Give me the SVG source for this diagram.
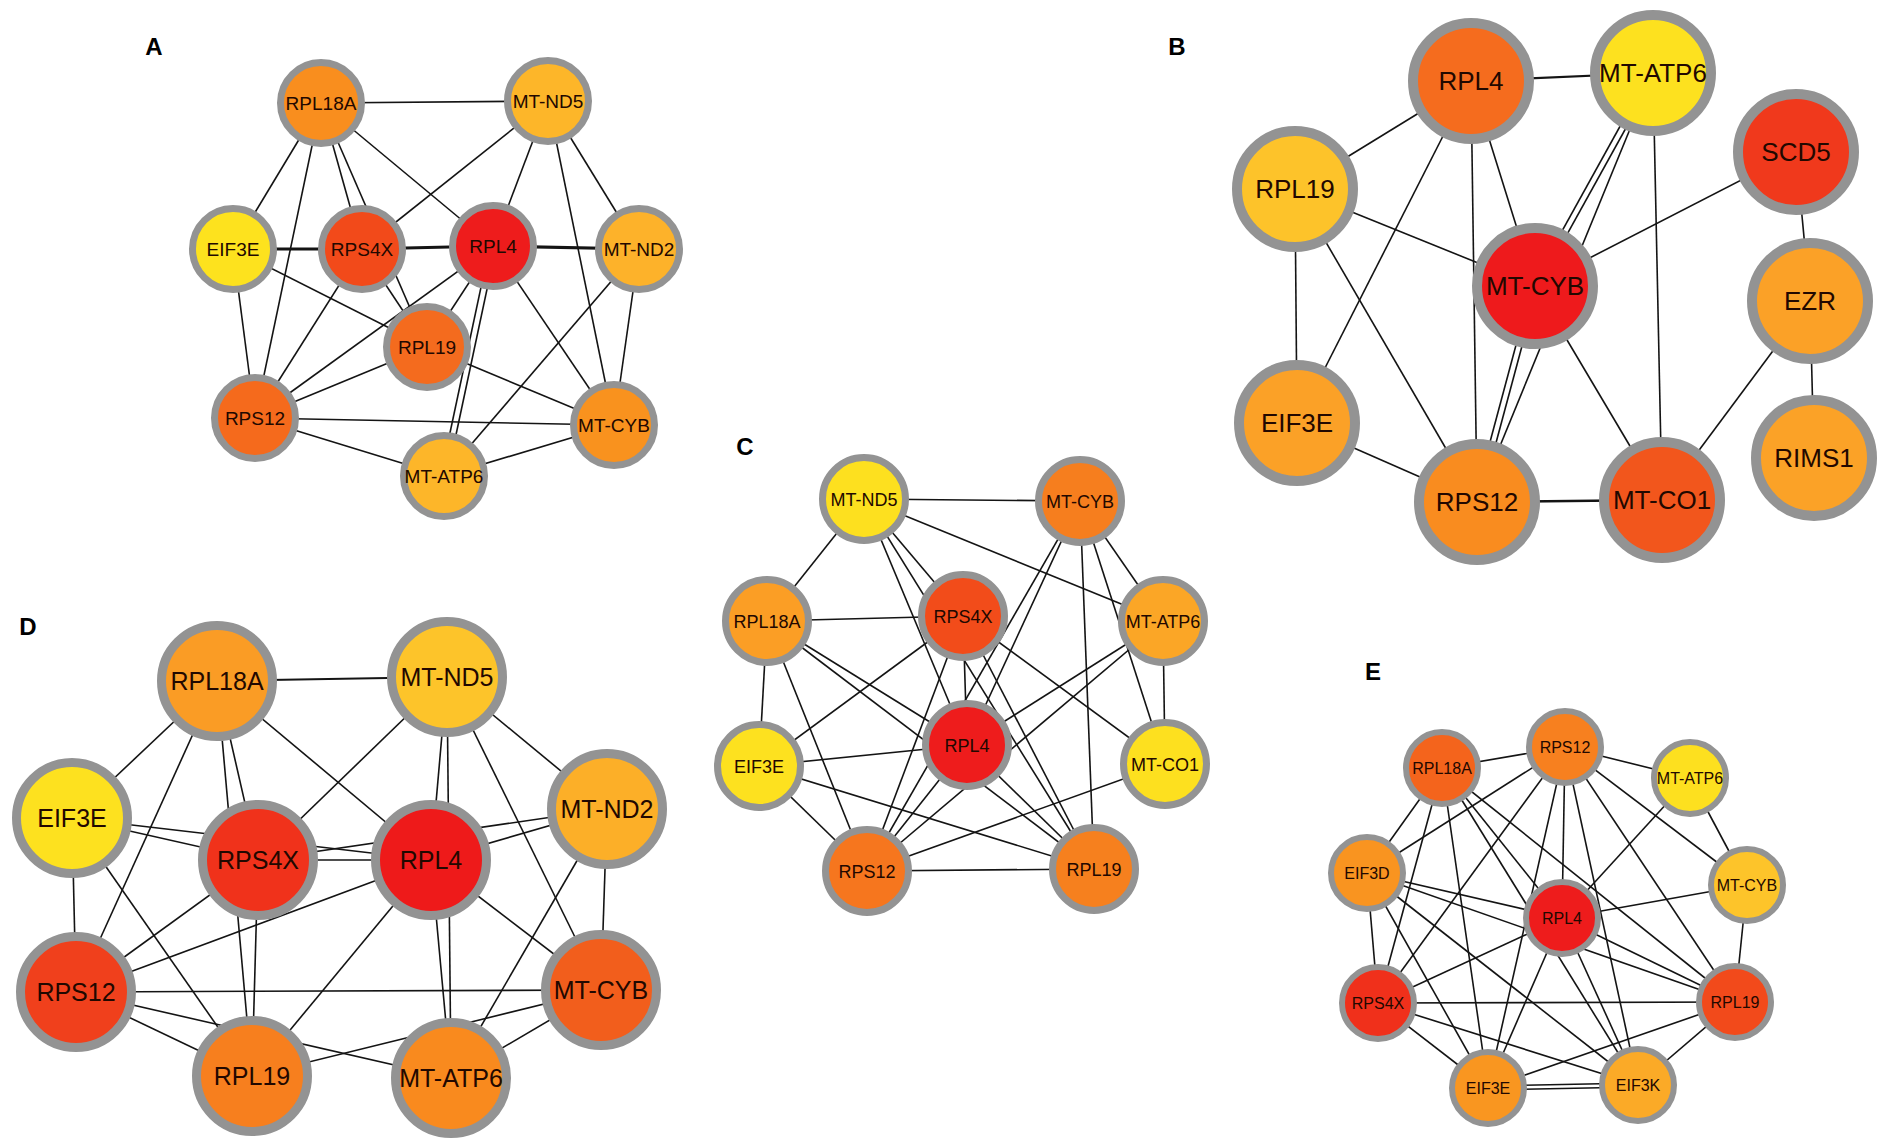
<svg xmlns="http://www.w3.org/2000/svg" width="1890" height="1148" viewBox="0 0 1890 1148">
<style>
.bg{fill:#ffffff}
.e{stroke:#141414;stroke-width:1.6;fill:none}
.et{stroke:#141414;stroke-width:3.2;fill:none}
.lbl{font-family:"Liberation Sans",Arial,sans-serif;font-weight:bold;font-size:24px;fill:#000;text-anchor:middle}
.t{font-family:"Liberation Sans",Arial,sans-serif;fill:#220800;text-anchor:middle}
.ca{stroke:#939393;stroke-width:7}
.cb{stroke:#939393;stroke-width:10}
.cc{stroke:#939393;stroke-width:7}
.cd{stroke:#939393;stroke-width:9}
.ce{stroke:#939393;stroke-width:6}
.ta{font-size:19px}
.tb{font-size:26px}
.tc{font-size:18px}
.td{font-size:25px}
.te{font-size:16px}
</style>
<rect class="bg" x="0" y="0" width="1890" height="1148"/>
<g id="panel-labels">
<text class="lbl" x="154" y="55">A</text>
<text class="lbl" x="1177" y="55">B</text>
<text class="lbl" x="745" y="455">C</text>
<text class="lbl" x="28" y="635">D</text>
<text class="lbl" x="1373" y="680">E</text>
</g>
<g id="connectors">
<!-- Panel A -->
<line class="e" x1="321" y1="103" x2="548" y2="101"/>
<line class="e" x1="321" y1="103" x2="233" y2="249"/>
<line class="e" x1="321" y1="103" x2="255" y2="418"/>
<line class="e" x1="321" y1="103" x2="362" y2="249"/>
<line class="e" x1="321" y1="103" x2="427" y2="347"/>
<line class="e" x1="321" y1="103" x2="493" y2="246"/>
<line class="e" x1="548" y1="101" x2="362" y2="249"/>
<line class="e" x1="548" y1="101" x2="493" y2="246"/>
<line class="e" x1="548" y1="101" x2="614" y2="425"/>
<line class="e" x1="548" y1="101" x2="639" y2="249"/>
<line class="et" x1="233" y1="249" x2="362" y2="249"/>
<line class="et" x1="362" y1="249" x2="493" y2="246"/>
<line class="et" x1="493" y1="246" x2="639" y2="249"/>
<line class="e" x1="233" y1="249" x2="255" y2="418"/>
<line class="e" x1="233" y1="249" x2="427" y2="347"/>
<line class="e" x1="362" y1="249" x2="255" y2="418"/>
<line class="e" x1="362" y1="249" x2="427" y2="347"/>
<line class="e" x1="493" y1="246" x2="255" y2="418"/>
<line class="e" x1="493" y1="246" x2="427" y2="347"/>
<line class="e" x1="496" y1="247" x2="447" y2="477"/>
<line class="e" x1="490" y1="245" x2="441" y2="475"/>
<line class="e" x1="493" y1="246" x2="614" y2="425"/>
<line class="e" x1="639" y1="249" x2="444" y2="476"/>
<line class="e" x1="639" y1="249" x2="614" y2="425"/>
<line class="e" x1="427" y1="347" x2="614" y2="425"/>
<line class="e" x1="255" y1="418" x2="614" y2="425"/>
<line class="e" x1="255" y1="418" x2="444" y2="476"/>
<line class="e" x1="444" y1="476" x2="614" y2="425"/>
<line class="e" x1="255" y1="418" x2="427" y2="347"/>
<!-- Panel B -->
<line class="e" x1="1471" y1="81" x2="1653" y2="73" style="stroke-width:2.2"/>
<line class="e" x1="1471" y1="81" x2="1295" y2="189"/>
<line class="e" x1="1471" y1="81" x2="1297" y2="423"/>
<line class="e" x1="1471" y1="81" x2="1477" y2="502"/>
<line class="e" x1="1471" y1="81" x2="1535" y2="286"/>
<line class="e" x1="1655.6" y1="74.5" x2="1537.6" y2="287.5"/>
<line class="e" x1="1650.4" y1="71.5" x2="1532.4" y2="284.5"/>
<line class="e" x1="1653" y1="73" x2="1477" y2="502"/>
<line class="e" x1="1537.9" y1="286.8" x2="1479.9" y2="502.8"/>
<line class="e" x1="1532.1" y1="285.2" x2="1474.1" y2="501.2"/>
<line class="e" x1="1653" y1="73" x2="1662" y2="500"/>
<line class="e" x1="1796" y1="152" x2="1535" y2="286"/>
<line class="e" x1="1796" y1="152" x2="1810" y2="301"/>
<line class="e" x1="1810" y1="301" x2="1814" y2="458"/>
<line class="e" x1="1810" y1="301" x2="1662" y2="500"/>
<line class="e" x1="1295" y1="189" x2="1535" y2="286"/>
<line class="e" x1="1295" y1="189" x2="1297" y2="423"/>
<line class="e" x1="1295" y1="189" x2="1477" y2="502"/>
<line class="e" x1="1535" y1="286" x2="1662" y2="500"/>
<line class="e" x1="1297" y1="423" x2="1477" y2="502"/>
<line class="e" x1="1477" y1="502" x2="1662" y2="500" style="stroke-width:2.6"/>
<!-- Panel C -->
<line class="e" x1="864" y1="499" x2="1080" y2="501"/>
<line class="e" x1="864" y1="499" x2="767" y2="621"/>
<line class="e" x1="864" y1="499" x2="963" y2="616"/>
<line class="e" x1="864" y1="499" x2="967" y2="745"/>
<line class="e" x1="864" y1="499" x2="1094" y2="869"/>
<line class="e" x1="864" y1="499" x2="1163" y2="621"/>
<line class="e" x1="1080" y1="501" x2="967" y2="745"/>
<line class="e" x1="1080" y1="501" x2="867" y2="871"/>
<line class="e" x1="1080" y1="501" x2="1094" y2="869"/>
<line class="e" x1="1080" y1="501" x2="1163" y2="621"/>
<line class="e" x1="1080" y1="501" x2="1165" y2="764"/>
<line class="e" x1="1163" y1="621" x2="1165" y2="764"/>
<line class="e" x1="1163" y1="621" x2="967" y2="745"/>
<line class="e" x1="1163" y1="621" x2="867" y2="871"/>
<line class="e" x1="963" y1="616" x2="767" y2="621"/>
<line class="e" x1="963" y1="616" x2="967" y2="745"/>
<line class="e" x1="963" y1="616" x2="759" y2="766"/>
<line class="e" x1="963" y1="616" x2="867" y2="871"/>
<line class="e" x1="963" y1="616" x2="1165" y2="764"/>
<line class="e" x1="963" y1="616" x2="1094" y2="869"/>
<line class="e" x1="767" y1="621" x2="759" y2="766"/>
<line class="e" x1="767" y1="621" x2="967" y2="745"/>
<line class="e" x1="767" y1="621" x2="1094" y2="869"/>
<line class="e" x1="767" y1="621" x2="867" y2="871"/>
<line class="e" x1="759" y1="766" x2="967" y2="745"/>
<line class="e" x1="759" y1="766" x2="867" y2="871"/>
<line class="e" x1="759" y1="766" x2="1094" y2="869"/>
<line class="e" x1="967" y1="745" x2="867" y2="871"/>
<line class="e" x1="967" y1="745" x2="1094" y2="869"/>
<line class="e" x1="867" y1="871" x2="1094" y2="869"/>
<line class="e" x1="867" y1="871" x2="1165" y2="764"/>
<!-- Panel D -->
<line class="e" x1="217" y1="681" x2="447" y2="677" style="stroke-width:2"/>
<line class="e" x1="217" y1="681" x2="72" y2="818"/>
<line class="e" x1="217" y1="681" x2="76" y2="992"/>
<line class="e" x1="217" y1="681" x2="258" y2="860"/>
<line class="e" x1="217" y1="681" x2="252" y2="1076"/>
<line class="e" x1="217" y1="681" x2="431" y2="860"/>
<line class="e" x1="447" y1="677" x2="258" y2="860"/>
<line class="e" x1="447" y1="677" x2="431" y2="860"/>
<line class="e" x1="447" y1="677" x2="451" y2="1078"/>
<line class="e" x1="447" y1="677" x2="601" y2="990"/>
<line class="e" x1="447" y1="677" x2="607" y2="809"/>
<line class="e" x1="72" y1="818" x2="258" y2="860"/>
<line class="e" x1="72" y1="818" x2="431" y2="860"/>
<line class="e" x1="258" y1="860" x2="431" y2="860"/>
<line class="e" x1="258" y1="860" x2="607" y2="809"/>
<line class="e" x1="431" y1="860" x2="607" y2="809"/>
<line class="e" x1="72" y1="818" x2="76" y2="992"/>
<line class="e" x1="72" y1="818" x2="252" y2="1076"/>
<line class="e" x1="258" y1="860" x2="76" y2="992"/>
<line class="e" x1="258" y1="860" x2="252" y2="1076"/>
<line class="e" x1="431" y1="860" x2="76" y2="992"/>
<line class="e" x1="431" y1="860" x2="252" y2="1076"/>
<line class="e" x1="431" y1="860" x2="451" y2="1078"/>
<line class="e" x1="431" y1="860" x2="601" y2="990"/>
<line class="e" x1="607" y1="809" x2="451" y2="1078"/>
<line class="e" x1="607" y1="809" x2="601" y2="990"/>
<line class="e" x1="76" y1="992" x2="601" y2="990"/>
<line class="e" x1="76" y1="992" x2="252" y2="1076"/>
<line class="e" x1="76" y1="992" x2="451" y2="1078"/>
<line class="e" x1="252" y1="1076" x2="601" y2="990"/>
<line class="e" x1="451" y1="1078" x2="601" y2="990"/>
<!-- Panel E -->
<line class="e" x1="1565" y1="747" x2="1442" y2="768"/>
<line class="e" x1="1565" y1="747" x2="1690" y2="778"/>
<line class="e" x1="1565" y1="747" x2="1367" y2="873"/>
<line class="e" x1="1565" y1="747" x2="1378" y2="1003"/>
<line class="e" x1="1565" y1="747" x2="1488" y2="1088"/>
<line class="e" x1="1565" y1="747" x2="1562" y2="918"/>
<line class="e" x1="1565" y1="747" x2="1638" y2="1085"/>
<line class="e" x1="1565" y1="747" x2="1735" y2="1002"/>
<line class="e" x1="1565" y1="747" x2="1747" y2="885"/>
<line class="e" x1="1442" y1="768" x2="1367" y2="873"/>
<line class="e" x1="1442" y1="768" x2="1378" y2="1003"/>
<line class="e" x1="1442" y1="768" x2="1488" y2="1088"/>
<line class="e" x1="1442" y1="768" x2="1562" y2="918"/>
<line class="e" x1="1442" y1="768" x2="1638" y2="1085"/>
<line class="e" x1="1442" y1="768" x2="1735" y2="1002"/>
<line class="e" x1="1690" y1="778" x2="1747" y2="885"/>
<line class="e" x1="1690" y1="778" x2="1562" y2="918"/>
<line class="e" x1="1747" y1="885" x2="1562" y2="918"/>
<line class="e" x1="1747" y1="885" x2="1735" y2="1002"/>
<line class="e" x1="1367" y1="873" x2="1562" y2="918"/>
<line class="e" x1="1367" y1="873" x2="1735" y2="1002"/>
<line class="e" x1="1367" y1="873" x2="1378" y2="1003"/>
<line class="e" x1="1367" y1="873" x2="1488" y2="1088"/>
<line class="e" x1="1367" y1="873" x2="1638" y2="1085"/>
<line class="e" x1="1378" y1="1003" x2="1562" y2="918"/>
<line class="e" x1="1378" y1="1003" x2="1735" y2="1002"/>
<line class="e" x1="1378" y1="1003" x2="1488" y2="1088"/>
<line class="e" x1="1378" y1="1003" x2="1638" y2="1085"/>
<line class="e" x1="1562" y1="918" x2="1488" y2="1088"/>
<line class="e" x1="1562" y1="918" x2="1638" y2="1085"/>
<line class="e" x1="1562" y1="918" x2="1735" y2="1002"/>
<line class="e" x1="1735" y1="1002" x2="1488" y2="1088"/>
<line class="e" x1="1735" y1="1002" x2="1638" y2="1085"/>
<line class="e" x1="1488" y1="1086" x2="1638" y2="1083"/>
<line class="e" x1="1488" y1="1090" x2="1638" y2="1087"/>
</g>
<g id="panel-A">
<g id="A-RPL18A"><circle class="ca" cx="321" cy="103" r="40.5" fill="#F98E1E"/><text class="t ta" x="321" y="109.5">RPL18A</text></g>
<g id="A-MT-ND5"><circle class="ca" cx="548" cy="101" r="40.5" fill="#FDB629"/><text class="t ta" x="548" y="107.5">MT-ND5</text></g>
<g id="A-EIF3E"><circle class="ca" cx="233" cy="249" r="40.5" fill="#FDE21E"/><text class="t ta" x="233" y="255.5">EIF3E</text></g>
<g id="A-RPS4X"><circle class="ca" cx="362" cy="249" r="40.5" fill="#F24A1A"/><text class="t ta" x="362" y="255.5">RPS4X</text></g>
<g id="A-RPL4"><circle class="ca" cx="493" cy="246" r="40.5" fill="#EE1C1C"/><text class="t ta" x="493" y="252.5">RPL4</text></g>
<g id="A-MT-ND2"><circle class="ca" cx="639" cy="249" r="40.5" fill="#FDB22A"/><text class="t ta" x="639" y="255.5">MT-ND2</text></g>
<g id="A-RPL19"><circle class="ca" cx="427" cy="347" r="40.5" fill="#F46B1E"/><text class="t ta" x="427" y="353.5">RPL19</text></g>
<g id="A-RPS12"><circle class="ca" cx="255" cy="418" r="40.5" fill="#F56A1C"/><text class="t ta" x="255" y="424.5">RPS12</text></g>
<g id="A-MT-CYB"><circle class="ca" cx="614" cy="425" r="40.5" fill="#F9921E"/><text class="t ta" x="614" y="431.5">MT-CYB</text></g>
<g id="A-MT-ATP6"><circle class="ca" cx="444" cy="476" r="40.5" fill="#FDB629"/><text class="t ta" x="444" y="482.5">MT-ATP6</text></g>
</g>
<g id="panel-B">
<g id="B-RPL4"><circle class="cb" cx="1471" cy="81" r="58" fill="#F56C1E"/><text class="t tb" x="1471" y="90">RPL4</text></g>
<g id="B-MT-ATP6"><circle class="cb" cx="1653" cy="73" r="58" fill="#FDE11F"/><text class="t tb" x="1653" y="82">MT-ATP6</text></g>
<g id="B-SCD5"><circle class="cb" cx="1796" cy="152" r="58" fill="#F0391C"/><text class="t tb" x="1796" y="161">SCD5</text></g>
<g id="B-RPL19"><circle class="cb" cx="1295" cy="189" r="58" fill="#FDC32A"/><text class="t tb" x="1295" y="198">RPL19</text></g>
<g id="B-MT-CYB"><circle class="cb" cx="1535" cy="286" r="58" fill="#EE1A1C"/><text class="t tb" x="1535" y="295">MT-CYB</text></g>
<g id="B-EZR"><circle class="cb" cx="1810" cy="301" r="58" fill="#FBA127"/><text class="t tb" x="1810" y="310">EZR</text></g>
<g id="B-EIF3E"><circle class="cb" cx="1297" cy="423" r="58" fill="#FBA127"/><text class="t tb" x="1297" y="432">EIF3E</text></g>
<g id="B-RIMS1"><circle class="cb" cx="1814" cy="458" r="58" fill="#FBA227"/><text class="t tb" x="1814" y="467">RIMS1</text></g>
<g id="B-RPS12"><circle class="cb" cx="1477" cy="502" r="58" fill="#F98C1F"/><text class="t tb" x="1477" y="511">RPS12</text></g>
<g id="B-MT-CO1"><circle class="cb" cx="1662" cy="500" r="58" fill="#F2561C"/><text class="t tb" x="1662" y="509">MT-CO1</text></g>
</g>
<g id="panel-C">
<g id="C-MT-ND5"><circle class="cc" cx="864" cy="499" r="41.5" fill="#FDE01F"/><text class="t tc" x="864" y="505.5">MT-ND5</text></g>
<g id="C-MT-CYB"><circle class="cc" cx="1080" cy="501" r="41.5" fill="#F67E1E"/><text class="t tc" x="1080" y="507.5">MT-CYB</text></g>
<g id="C-RPL18A"><circle class="cc" cx="767" cy="621" r="41.5" fill="#FB9E25"/><text class="t tc" x="767" y="627.5">RPL18A</text></g>
<g id="C-RPS4X"><circle class="cc" cx="963" cy="616" r="41.5" fill="#F24C1A"/><text class="t tc" x="963" y="622.5">RPS4X</text></g>
<g id="C-MT-ATP6"><circle class="cc" cx="1163" cy="621" r="41.5" fill="#FBA626"/><text class="t tc" x="1163" y="627.5">MT-ATP6</text></g>
<g id="C-EIF3E"><circle class="cc" cx="759" cy="766" r="41.5" fill="#FDE11F"/><text class="t tc" x="759" y="772.5">EIF3E</text></g>
<g id="C-RPL4"><circle class="cc" cx="967" cy="745" r="41.5" fill="#EE1C1C"/><text class="t tc" x="967" y="751.5">RPL4</text></g>
<g id="C-MT-CO1"><circle class="cc" cx="1165" cy="764" r="41.5" fill="#FDE01F"/><text class="t tc" x="1165" y="770.5">MT-CO1</text></g>
<g id="C-RPS12"><circle class="cc" cx="867" cy="871" r="41.5" fill="#F6761E"/><text class="t tc" x="867" y="877.5">RPS12</text></g>
<g id="C-RPL19"><circle class="cc" cx="1094" cy="869" r="41.5" fill="#F6801E"/><text class="t tc" x="1094" y="875.5">RPL19</text></g>
</g>
<g id="panel-D">
<g id="D-RPL18A"><circle class="cd" cx="217" cy="681" r="55.5" fill="#FA9C25"/><text class="t td" x="217" y="690">RPL18A</text></g>
<g id="D-MT-ND5"><circle class="cd" cx="447" cy="677" r="55.5" fill="#FDC42A"/><text class="t td" x="447" y="686">MT-ND5</text></g>
<g id="D-EIF3E"><circle class="cd" cx="72" cy="818" r="55.5" fill="#FDE11F"/><text class="t td" x="72" y="827">EIF3E</text></g>
<g id="D-RPS4X"><circle class="cd" cx="258" cy="860" r="55.5" fill="#F0321B"/><text class="t td" x="258" y="869">RPS4X</text></g>
<g id="D-RPL4"><circle class="cd" cx="431" cy="860" r="55.5" fill="#EE1A1A"/><text class="t td" x="431" y="869">RPL4</text></g>
<g id="D-MT-ND2"><circle class="cd" cx="607" cy="809" r="55.5" fill="#FCAF28"/><text class="t td" x="607" y="818">MT-ND2</text></g>
<g id="D-RPS12"><circle class="cd" cx="76" cy="992" r="55.5" fill="#F0401C"/><text class="t td" x="76" y="1001">RPS12</text></g>
<g id="D-MT-CYB"><circle class="cd" cx="601" cy="990" r="55.5" fill="#F25E1C"/><text class="t td" x="601" y="999">MT-CYB</text></g>
<g id="D-RPL19"><circle class="cd" cx="252" cy="1076" r="55.5" fill="#F77F1E"/><text class="t td" x="252" y="1085">RPL19</text></g>
<g id="D-MT-ATP6"><circle class="cd" cx="451" cy="1078" r="55.5" fill="#F98A1E"/><text class="t td" x="451" y="1087">MT-ATP6</text></g>
</g>
<g id="panel-E">
<g id="E-RPS12"><circle class="ce" cx="1565" cy="747" r="36" fill="#F7801F"/><text class="t te" x="1565" y="752.5">RPS12</text></g>
<g id="E-RPL18A"><circle class="ce" cx="1442" cy="768" r="36" fill="#F4641C"/><text class="t te" x="1442" y="773.5">RPL18A</text></g>
<g id="E-MT-ATP6"><circle class="ce" cx="1690" cy="778" r="36" fill="#FDE01F"/><text class="t te" x="1690" y="783.5">MT-ATP6</text></g>
<g id="E-EIF3D"><circle class="ce" cx="1367" cy="873" r="36" fill="#F99420"/><text class="t te" x="1367" y="878.5">EIF3D</text></g>
<g id="E-MT-CYB"><circle class="ce" cx="1747" cy="885" r="36" fill="#FDC42A"/><text class="t te" x="1747" y="890.5">MT-CYB</text></g>
<g id="E-RPL4"><circle class="ce" cx="1562" cy="918" r="36" fill="#EE1C1C"/><text class="t te" x="1562" y="923.5">RPL4</text></g>
<g id="E-RPS4X"><circle class="ce" cx="1378" cy="1003" r="36" fill="#F0301B"/><text class="t te" x="1378" y="1008.5">RPS4X</text></g>
<g id="E-RPL19"><circle class="ce" cx="1735" cy="1002" r="36" fill="#F24A1B"/><text class="t te" x="1735" y="1007.5">RPL19</text></g>
<g id="E-EIF3E"><circle class="ce" cx="1488" cy="1088" r="36" fill="#F99620"/><text class="t te" x="1488" y="1093.5">EIF3E</text></g>
<g id="E-EIF3K"><circle class="ce" cx="1638" cy="1085" r="36" fill="#FBAA27"/><text class="t te" x="1638" y="1090.5">EIF3K</text></g>
</g>
</svg>
